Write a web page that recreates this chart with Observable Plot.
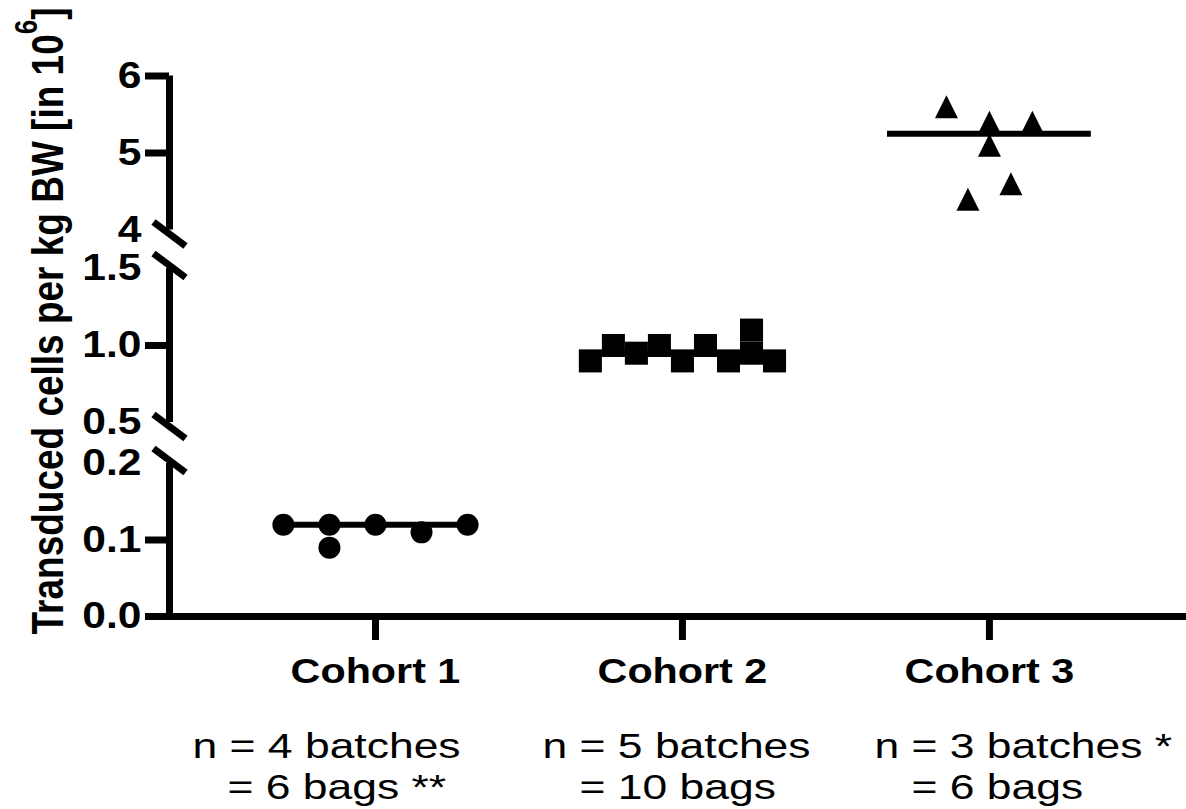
<!DOCTYPE html>
<html><head><meta charset="utf-8">
<script src="https://cdn.jsdelivr.net/npm/d3@7"></script>
<script src="https://cdn.jsdelivr.net/npm/@observablehq/plot@0.6"></script>
<style>html,body{margin:0;padding:0;background:#fff;}</style>
</head><body><div id="chart"></div>
<script>
// ---- data ----
const cohorts = [1, 2, 3];
const cohortLabels = ["Cohort 1", "Cohort 2", "Cohort 3"];
const noteLine1 = ["n = 4 batches", "n = 5 batches", "n = 3 batches *"];
const noteLine2 = ["= 6 bags **", "= 10 bags", "= 6 bags"];
// column of each point within its cohort's scatter, and its value (x10^6 cells/kg)
const cohort1Slot = [-2, -1, -1, 0, 1, 2];
const cohort1Value = [0.12, 0.12, 0.09, 0.12, 0.11, 0.12];
const cohort2Slot = [-4, -3, -2, -1, 0, 1, 2, 3, 3, 4];
const cohort2Value = [0.9, 1.0, 0.95, 1.0, 0.9, 1.0, 0.9, 1.1, 0.95, 0.9];
const cohort3Slot = [-2, 0, 2, 0, -1, 1];
const cohort3Value = [5.6, 5.4, 5.4, 5.1, 4.4, 4.6];
const yTickLabels = [0, 0.1, 0.2, 0.5, 1.0, 1.5, 4, 5, 6];
const yTickMarks = [0, 0.1, 1.0, 5, 6];
const axisSegments = [[0, 0.2], [0.5, 1.5], [4, 6]];
const segmentLowEnds = [0.5, 4];
const segmentHighEnds = [0.2, 1.5];
const yTitle = "Transduced cells per kg BW [in 10";
const yTitleSup = "6";
const yTitleEnd = "]";

// ---- layout ----
const spread = {1: 0.15, 2: 0.075, 3: 0.07};
const halfLine = 0.332;
const xDomain = [0.329, 3.642];
const pts = (c, slots, vals) => vals.map((v, i) => ({cohort: c, slot: slots[i], value: v}));
const c1 = pts(1, cohort1Slot, cohort1Value);
const c2 = pts(2, cohort2Slot, cohort2Value);
const c3 = pts(3, cohort3Slot, cohort3Value);
const medians = [cohort1Value, cohort2Value, cohort3Value].map((v, i) => ({cohort: cohorts[i], median: d3.median(v)}));
const xPos = d => d.cohort + d.slot * spread[d.cohort];

const triangle = {draw(ctx) { const h = 11.5; ctx.moveTo(0, -h); ctx.lineTo(h, h); ctx.lineTo(-h, h); ctx.closePath(); }};
const slash = {draw(ctx) { ctx.moveTo(-16, -12); ctx.lineTo(16, 12); }};

const noteDx1 = [-183, -140, -115];
const noteDx2 = [-148, -103, -78];
const noteMarks = cohorts.flatMap((c, i) => [
  Plot.text([noteLine1[i]], {x: () => c, frameAnchor: "bottom", dy: 141, dx: noteDx1[i], textAnchor: "start", lineAnchor: "bottom", fontSize: 35, fill: "black"}),
  Plot.text([noteLine2[i]], {x: () => c, frameAnchor: "bottom", dy: 182, dx: noteDx2[i], textAnchor: "start", lineAnchor: "bottom", fontSize: 35, fill: "black"})
]);

const svg = Plot.plot({
  width: 1186,
  height: 809,
  marginLeft: 169,
  marginRight: 0,
  marginTop: 75,
  marginBottom: 193,
  style: {fontFamily: "'Liberation Sans', Arial, sans-serif", color: "black", background: "white", overflow: "visible"},
  x: {type: "linear", domain: xDomain},
  y: {type: "linear", domain: [0, 0.2, 0.5, 1.5, 4, 6], range: [616, 463, 422, 268, 229.5, 75.5]},
  marks: [
    Plot.ruleX(axisSegments, {x: () => xDomain[0], y1: d => d[0], y2: d => d[1], strokeWidth: 7, stroke: "black"}),
    Plot.ruleY([0], {strokeWidth: 7, stroke: "black"}),
    Plot.axisY(yTickMarks, {tickSize: 24, strokeWidth: 7, stroke: "black", fill: "none", tickFormat: () => "", label: null}),
    Plot.axisY(yTickLabels, {tickSize: 0, tickPadding: 28, tickFormat: d => d >= 4 ? String(d) : d.toFixed(1), fontSize: 37, fontWeight: "bold", fill: "black", label: null}),
    Plot.axisX(cohorts, {tickSize: 24, strokeWidth: 7, stroke: "black", tickPadding: 18, tickFormat: i => cohortLabels[i - 1], fontSize: 35, fontWeight: "bold", fill: "black", label: null}),
    Plot.dot(segmentLowEnds, {y: d => d, frameAnchor: "left", symbol: slash, stroke: "black", strokeWidth: 7, fill: "none", dy: 4}),
    Plot.dot(segmentHighEnds, {y: d => d, frameAnchor: "left", symbol: slash, stroke: "black", strokeWidth: 7, fill: "none", dy: -3}),
    Plot.ruleY(medians, {y: "median", x1: d => d.cohort - halfLine, x2: d => d.cohort + halfLine, strokeWidth: 6, stroke: "black"}),
    Plot.dot(c1, {x: xPos, y: "value", r: 11, symbol: "circle", fill: "black"}),
    Plot.dot(c2, {x: xPos, y: "value", r: 13, symbol: "square", fill: "black"}),
    Plot.dot(c3, {x: xPos, y: "value", r: 10, symbol: triangle, fill: "black"}),
    Plot.text([yTitle], {frameAnchor: "left", rotate: -90, dx: -107, dy: -25, fontSize: 37, fontWeight: "bold", lineAnchor: "bottom", textAnchor: "middle", fill: "black"}),
    ...noteMarks
  ]
});
document.getElementById("chart").appendChild(svg);

const ns = "http://www.w3.org/2000/svg";
const allText = Array.from(svg.querySelectorAll("text"));
const byContent = list => allText.filter(t => list.includes(t.textContent));

// superscript in the axis title
const titleEls = byContent([yTitle]);
titleEls.forEach(tt => {
  const sup = document.createElementNS(ns, "tspan");
  sup.setAttribute("dy", "-22"); sup.setAttribute("font-size", "26"); sup.textContent = yTitleSup;
  const end = document.createElementNS(ns, "tspan");
  end.setAttribute("dy", "22"); end.textContent = yTitleEnd;
  tt.appendChild(sup); tt.appendChild(end);
});

// the reference's lettering is horizontally widened
function stretch(els, s) {
  els.forEach(t => {
    const tr = t.getAttribute("transform") || "";
    const c = t.transform.baseVal.consolidate();
    const m = c ? c.matrix : {a: 1, b: 0, c: 0, d: 1, e: 0, f: 0};
    const x = +t.getAttribute("x") || 0, y = +t.getAttribute("y") || 0;
    const X = m.a * x + m.c * y + m.e, Y = m.b * x + m.d * y + m.f;
    t.setAttribute("transform", `translate(${X},${Y}) scale(${s},1) translate(${-X},${-Y}) ${tr}`);
  });
}
stretch(Array.from(svg.querySelectorAll('g[aria-label="y-axis tick label"] text')), 1.15);
stretch(Array.from(svg.querySelectorAll('g[aria-label="x-axis tick label"] text')), 1.18);
stretch(byContent([...noteLine1, ...noteLine2]), 1.27);
stretch(titleEls, 1.18);
</script>
</body></html>
